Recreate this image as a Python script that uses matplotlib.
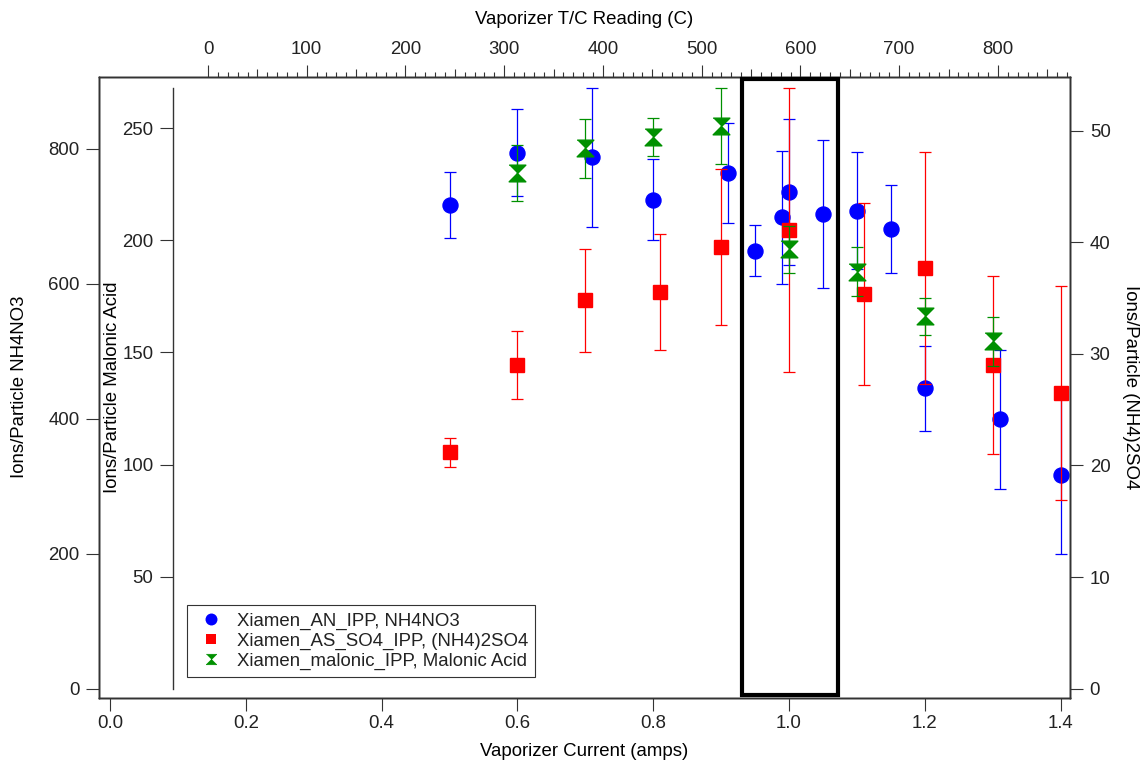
import numpy as np
import matplotlib.pyplot as plt
import matplotlib.transforms as mtransforms
from matplotlib.lines import Line2D
from matplotlib.patches import Rectangle
from matplotlib.ticker import FormatStrFormatter

plt.rcParams['font.family'] = ['Liberation Sans', 'DejaVu Sans']
plt.rcParams['font.size'] = 13.4
plt.rcParams['text.color'] = '#222222'
plt.rcParams['xtick.color'] = '#333333'
plt.rcParams['ytick.color'] = '#333333'
plt.rcParams['xtick.labelcolor'] = '#222222'
plt.rcParams['ytick.labelcolor'] = '#222222'

# NH4NO3 (left axis)
an_x = [0.50, 0.60, 0.71, 0.80, 0.91, 0.95, 0.99, 1.00, 1.05, 1.10, 1.15, 1.20, 1.31, 1.40]
an_y = [716, 794, 787, 724, 764, 649, 698, 736, 703, 708, 681, 445, 399, 317]
an_err = [49, 64, 103, 60, 74, 38, 99, 108, 110, 87, 65, 63, 103, 117]

# (NH4)2SO4 (right axis)
as_x = [0.50, 0.60, 0.70, 0.81, 0.90, 1.00, 1.11, 1.20, 1.30, 1.40]
as_y = [21.2, 29.0, 34.8, 35.5, 39.6, 41.1, 35.4, 37.7, 29.0, 26.5]
as_err = [1.3, 3.05, 4.6, 5.2, 7.0, 12.7, 8.15, 10.4, 8.0, 9.6]

# Malonic acid (inner left axis)
mal_x = [0.60, 0.70, 0.80, 0.90, 1.00, 1.10, 1.20, 1.30]
mal_y = [230, 241, 246, 251, 196, 186, 166, 155]
mal_err = [12.6, 13.1, 8.5, 16.8, 10.5, 11.0, 8.4, 10.9]

current_ticks = [0.0, 0.2, 0.4, 0.6, 0.8, 1.0, 1.2, 1.4]
tc_ticks = [0, 100, 200, 300, 400, 500, 600, 700, 800]
an_ticks = [0, 200, 400, 600, 800]
as_ticks = [0, 10, 20, 30, 40, 50]
mal_ticks = [50, 100, 150, 200, 250]
box_x = (0.931, 1.072)

labels = ['Xiamen_AN_IPP, NH4NO3',
          'Xiamen_AS_SO4_IPP, (NH4)2SO4',
          'Xiamen_malonic_IPP, Malonic Acid']

blue = '#0000ff'
red = '#ff0000'
green = '#009000'
hourglass = [(-1, 1), (1, 1), (0, 0), (1, -1), (-1, -1), (0, 0)]

W, H = 1141, 765
L, R, B, T = 99, 1070, 697.5, 77
fig = plt.figure(figsize=(W / 100, H / 100), dpi=100)
ax = fig.add_axes([L / W, (H - B) / H, (R - L) / W, (B - T) / H])
ax_so4 = ax.twinx()
ax_mal = ax.twinx()
ax_top = ax.twiny()
ax_mid = ax.twiny()

tick_kw = dict(direction='out', length=9.4, width=0.8)

# main axes
ax.set_xlim(-0.0162, 1.4138)
ax.set_ylim(-13.0, 906)
ax.set_xticks(current_ticks)
ax.xaxis.set_major_formatter(FormatStrFormatter('%.1f'))
ax.set_yticks(an_ticks)
ax.tick_params(axis='x', pad=3, **tick_kw)
ax.tick_params(axis='y', pad=4.7, **tick_kw)
ax.set_xlabel('Vaporizer Current (amps)', va='center')
ax.xaxis.set_label_coords(0.5, -0.0878)
ax.set_ylabel('Ions/Particle NH4NO3', va='center')
ax.yaxis.set_label_coords(-0.0815, 0.5)

# right axis
ax_so4.set_ylim(-0.79, 54.8)
ax_so4.set_yticks(as_ticks)
ax_so4.tick_params(axis='y', pad=4.8, **tick_kw)
ax_so4.set_ylabel('Ions/Particle (NH4)2SO4', rotation=-90, va='center')
ax_so4.yaxis.set_label_coords(1.0618, 0.5)

# inner left axis
ax_mal.set_ylim(-3.9, 272.8)
ax_mal.yaxis.tick_left()
ax_mal.yaxis.set_label_position('left')
for s in ['right', 'top', 'bottom']:
    ax_mal.spines[s].set_visible(False)
ax_mal.spines['left'].set_position(('axes', (173.3 - L) / (R - L)))
ax_mal.spines['left'].set_bounds(0, 268)
ax_mal.set_yticks(mal_ticks)
ax_mal.tick_params(axis='y', pad=4.8, **tick_kw)
ax_mal.set_ylabel('Ions/Particle Malonic Acid', va='center')
ax_mal.yaxis.set_label_coords(0.0134, 0.5)

# top axis
for a in (ax_top, ax_mid):
    a.set_xlim(-110.4, 873)
ax_top.set_xticks(tc_ticks)
ax_top.set_xticks([v for v in range(0, 871, 10) if v % 50], minor=True)
ax_top.tick_params(axis='x', which='major', direction='out', length=9, width=0.8, pad=4.5)
ax_top.tick_params(axis='x', which='minor', direction='out', length=3.5, width=0.8)
ax_top.set_xlabel('Vaporizer T/C Reading (C)', va='center')
ax_top.xaxis.set_label_coords(0.5, 1.092)
ax_mid.set_xticks([v for v in range(50, 871, 100)])
ax_mid.tick_params(axis='x', which='major', direction='out', length=5.5, width=0.8,
                   labeltop=False, labelbottom=False)
for s in ax_mid.spines.values():
    s.set_visible(False)

for a in (ax, ax_so4, ax_top):
    for s in a.spines.values():
        s.set_linewidth(1.0)
        s.set_color('#333333')
ax_mal.spines['left'].set_linewidth(1.0)
ax_mal.spines['left'].set_color('#333333')

err_kw = dict(linestyle='none', elinewidth=0.9, capsize=4.6, capthick=0.9)
ax.errorbar(an_x, an_y, yerr=an_err, marker='o', ms=10.8, color=blue, **err_kw)
ax_so4.errorbar(as_x, as_y, yerr=as_err, marker='s', ms=10.5, color=red, **err_kw)
ax_mal.errorbar(mal_x, mal_y, yerr=mal_err, marker=hourglass, ms=12, color=green, **err_kw)

trans = mtransforms.blended_transform_factory(ax.transData, ax.transAxes)
ax_mid.add_patch(Rectangle((box_x[0], 0.004), box_x[1] - box_x[0], 0.9928,
                           fill=False, lw=3, ec='black', transform=trans,
                           clip_on=False, zorder=5))

handles = [Line2D([], [], ls='none', marker='o', ms=8.6, mew=0, color=blue),
           Line2D([], [], ls='none', marker='s', ms=7.2, mew=0, color=red),
           Line2D([], [], ls='none', marker=hourglass, ms=7.5, mew=0.5, color=green)]
leg = ax_mid.legend(handles, labels, loc='lower left', bbox_to_anchor=(0.0903, 0.0326),
                    borderaxespad=0, frameon=True, fancybox=False, edgecolor='#333333',
                    framealpha=1, borderpad=0.4, handlelength=1.8, handletextpad=0.48,
                    labelspacing=0.15, fontsize=13.4)
leg.get_frame().set_linewidth(0.8)

fig.savefig('out.png', dpi=100)
